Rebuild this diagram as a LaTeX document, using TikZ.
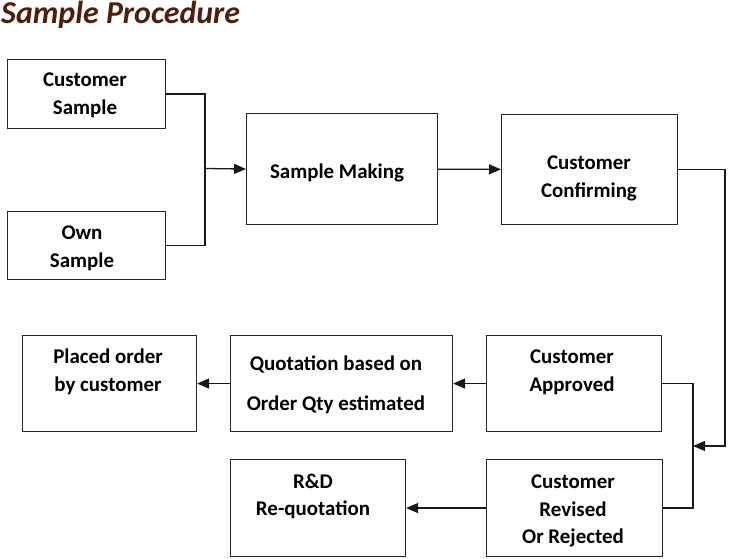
\documentclass[tikz,border=0pt]{standalone}
\usepackage{fontspec}
\setmainfont{Carlito}
\usetikzlibrary{arrows.meta,positioning,calc}
\definecolor{titlebrown}{RGB}{78,30,14}

\begin{document}
\begin{tikzpicture}[
  x=1bp, y=-1bp,
  box/.style={rectangle, draw=black!85, line width=1.1bp, inner sep=0pt, anchor=north west, fill=white},
  txt/.style={align=center, font=\fontsize{21}{28}\selectfont\bfseries, inner sep=0pt},
  flow/.style={-{Triangle[length=12bp,width=10bp]}, line width=1.3bp, black!90},
  link/.style={line width=1.3bp, black!90}
]
\useasboundingbox[fill=white] (0,0) rectangle (733,559);

\node[anchor=north west, inner sep=0pt, text=titlebrown,
  font=\fontsize{32}{36}\selectfont\bfseries\itshape] (title) at (1,1) {Sample Procedure};

% top row
\node[box, minimum width=158bp, minimum height=69bp] (cs) at (7,59) {};
\node[box, minimum width=158bp, minimum height=68bp] (own) at (7,211) {};
\node[box, minimum width=191bp, minimum height=111bp] (make) at (246,113) {};
\node[box, minimum width=176bp, minimum height=110bp] (conf) at (501,114) {};

% lower rows
\node[box, minimum width=174bp, minimum height=96bp] (placed) at (22,335) {};
\node[box, minimum width=222bp, minimum height=96bp] (quot) at (230,335) {};
\node[box, minimum width=175bp, minimum height=96bp] (appr) at (486,335) {};
\node[box, minimum width=175bp, minimum height=97bp] (rnd) at (230,459) {};
\node[box, minimum width=176bp, minimum height=97bp] (rev) at (486,459) {};

% texts
\node[txt] (csT) at (85,95.5) {Customer\\Sample};
\node[txt] (ownT) at (82,248.5) {Own\\Sample};
\node[txt] (makeT) at (337,173) {Sample Making};
\node[txt] (confT) at (589,178) {Customer\\Confirming};
\node[txt] (placedT) at (108,372) {Placed order\\by customer};
\node[txt, font=\fontsize{21}{40}\selectfont\bfseries] (quotT) at (336,385) {Quotation based on\\Order Qty estimated};
\node[txt] (apprT) at (572,372) {Customer\\Approved};
\node[txt, font=\fontsize{21}{27}\selectfont\bfseries] (rndT) at (313,496) {R\&D\\Re-quotation};
\node[txt, font=\fontsize{21}{27.5}\selectfont\bfseries] (revT) at (573,511) {Customer\\Revised\\Or Rejected};

% connectors
\coordinate (joinA) at (205,168.5);
\coordinate (joinB) at (693,446);
\draw[link] (cs.east) -| (joinA);
\draw[link] (own.east) -| (joinA);
\draw[flow] (joinA) -- (make.west);
\draw[flow] (make) -- (conf);
\draw[flow] (conf.east) -- ++(47,0) |- (joinB);
\draw[link] (appr.east) -| (joinB) |- (rev.east);
\draw[flow] (appr) -- (quot);
\draw[flow] (quot) -- (placed);
\draw[flow] (rev) -- (rnd);

\end{tikzpicture}
\end{document}
